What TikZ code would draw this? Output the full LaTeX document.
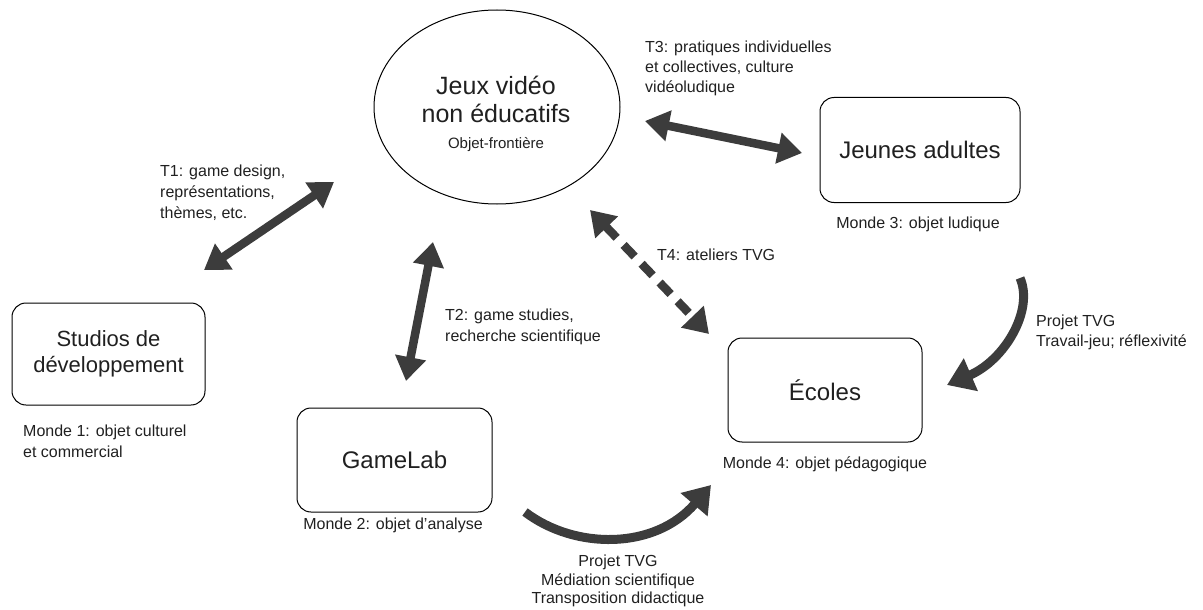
\documentclass[tikz,border=0pt]{standalone}
\usepackage{fontspec}
\setmainfont{Liberation Sans}
\usetikzlibrary{arrows.meta,shapes.geometric}
\definecolor{arr}{HTML}{3C3C3C}
\definecolor{txt}{HTML}{202020}
\tikzset{
  world/.style={draw=black, line width=1pt, rounded corners=14pt, font=\fontsize{24}{27}\selectfont, text=txt, align=center},
  lbl/.style={font=\fontsize{16}{21}\selectfont, text=txt, inner sep=0pt},
  dbl/.style={draw=arr, line width=8.5pt, {Triangle[length=24pt,width=30pt]}-{Triangle[length=24pt,width=30pt]}},
  sgl/.style={draw=arr, line width=9pt, -{Triangle[length=26pt,width=34pt]}},
}
\begin{document}
\begin{tikzpicture}[x=1pt,y=-1pt]
\useasboundingbox (0,0) rectangle (1203,610);
% nodes
\node[draw=black, line width=1pt, ellipse, minimum width=246pt, minimum height=194pt] (jeux) at (497,107) {};
\node[font=\fontsize{25}{28}\selectfont, text=txt, align=center, inner sep=0pt] (jeuxt) at (496,99) {Jeux vidéo\\non éducatifs};
\node[lbl, font=\fontsize{15}{18}\selectfont] (obj) at (496,145) {Objet-frontière};

\node[world, minimum width=200pt, minimum height=105pt] (jeunes) at (920,150) {Jeunes adultes};
\node[world, font=\fontsize{22}{26}\selectfont, minimum width=193pt, minimum height=102pt] (studios) at (108.5,354) {Studios de\\développement};
\node[world, minimum width=195pt, minimum height=104pt] (gamelab) at (394.5,460) {GameLab};
\node[world, minimum width=194pt, minimum height=104pt] (ecoles) at (825,390) {Écoles};

% world labels
\node[lbl, anchor=north] (m3) at (918,217) {Monde 3: objet ludique};
\node[lbl, anchor=north west, align=left] (m1) at (23,425) {Monde 1: objet culturel\\et commercial};
\node[lbl, anchor=north] (m2) at (393,518) {Monde 2: objet d’analyse};
\node[lbl, anchor=north] (m4) at (825,457) {Monde 4: objet pédagogique};

% transaction labels
\node[lbl, anchor=north west, align=left] (t1) at (160,165) {T1: game design,\\représentations,\\thèmes, etc.};
\node[lbl, anchor=north west, align=left] (t2) at (445,309) {T2: game studies,\\recherche scientifique};
\node[lbl, anchor=north west, align=left, font=\fontsize{16}{20}\selectfont] (t3) at (645,41) {T3: pratiques individuelles\\et collectives, culture\\vidéoludique};
\node[lbl, anchor=north west] (t4) at (657,249) {T4: ateliers TVG};
\node[lbl, anchor=north west, align=left, font=\fontsize{16}{20}\selectfont] (p1) at (1036,315) {Projet TVG\\Travail-jeu; réflexivité};
\node[lbl, anchor=north, align=center, font=\fontsize{16}{18.5}\selectfont] (p2) at (618,555) {Projet TVG\\Médiation scientifique\\Transposition didactique};

% arrow endpoints
\coordinate (t1a) at (204,270);
\coordinate (t1b) at (334,182);
\coordinate (t2a) at (433,242);
\coordinate (t2b) at (406,381);
\coordinate (t3a) at (645,121);
\coordinate (t3b) at (802,153);
\coordinate (t4a) at (590,210);
\coordinate (t4b) at (709,334);
\coordinate (c1a) at (1020,278);
\coordinate (c1b) at (947,385);
\coordinate (c2a) at (525,512);
\coordinate (c2b) at (711,485);

% connectors
\draw[dbl] (t1a) -- (t1b);
\draw[dbl] (t2a) -- (t2b);
\draw[dbl] (t3a) -- (t3b);
\draw[dbl, dash pattern=on 16pt off 10pt] (t4a) -- (t4b);
\draw[sgl] (c1a) .. controls (1034,310) and (1005,360) .. (c1b);
\draw[sgl] (c2a) .. controls (575,550) and (655,550) .. (c2b);
\end{tikzpicture}
\end{document}
